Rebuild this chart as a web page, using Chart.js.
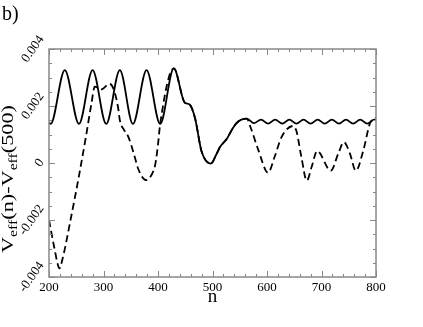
<!DOCTYPE html>
<html>
<head>
<meta charset="utf-8">
<script src="https://cdn.jsdelivr.net/npm/chart.js@4.4.0/dist/chart.umd.min.js"></script>
<style>
  html, body { margin: 0; padding: 0; background: #fff; }
  #wrap { width: 423px; height: 327px; }
</style>
</head>
<body>
<div id="wrap"><canvas id="chart" width="423" height="327"></canvas></div>
<script>
// V_eff(n) - V_eff(500) (extrema mostly)
var nSolid = [200, 203, 229, 255, 280, 305, 330, 354, 379, 404, 429, 449, 458, 468, 480, 497, 507, 514,
              526, 536, 544, 553, 563, 576, 589, 602, 615, 628, 641, 654, 667, 680, 693, 706, 719, 732,
              745, 758, 771, 784, 797, 800];
var vSolid = [0.00142, 0.00137, 0.00326, 0.00137, 0.00326, 0.00137, 0.00326, 0.00137, 0.00326, 0.00137,
              0.00332, 0.00212, 0.00205, 0.00157, 0.00040, -0.00002, 0.00030, 0.00057, 0.00084, 0.00118,
              0.00140, 0.00152, 0.00156, 0.00140, 0.00152, 0.00138, 0.00152, 0.00138, 0.00152, 0.00138,
              0.00152, 0.00138, 0.00152, 0.00138, 0.00152, 0.00138, 0.00152, 0.00138, 0.00152, 0.00138,
              0.00152, 0.00151];

var nDashed = [200, 210, 216, 219, 225, 240, 255, 268, 278, 284, 296, 311, 318, 327, 330, 338, 346, 356,
               364, 378, 388, 395, 400, 404, 429, 449, 458, 468, 480, 497, 507, 514, 526, 536, 544, 553,
               563, 569, 584, 602, 614, 627, 648, 654, 663, 673, 682, 692, 717, 731, 741, 752, 763, 777,
               789, 795, 800];
var vDashed = [-0.00200, -0.00300, -0.00355, -0.00370, -0.00335, -0.00195, -0.00045, 0.00095, 0.00210,
               0.00268, 0.00258, 0.00278, 0.00262, 0.00192, 0.00150, 0.00115, 0.00090, 0.00030, -0.00022,
               -0.00060, -0.00042, -0.00005, 0.00065, 0.00137, 0.00332, 0.00212, 0.00205, 0.00157, 0.00040,
               -0.00002, 0.00030, 0.00057, 0.00084, 0.00118, 0.00140, 0.00152, 0.00156, 0.00130, 0.00046,
               -0.00034, 0.00022, 0.00092, 0.00130, 0.00112, 0.00022, -0.00062, -0.00013, 0.00042, -0.00027,
               0.00034, 0.00073, 0.00034, -0.00027, 0.00046, 0.00140, 0.00153, 0.00160];

var xRange = [200, 800];
var yRange = [-0.004, 0.004];

function toPoints(xs, ys) {
  return xs.map(function(x, i) { return {x: x, y: ys[i]}; });
}

var serif = '"Liberation Serif", "Times New Roman", serif';

// frame, inward ticks on all sides, rotated y labels and the texts
var decorations = {
  id: 'decorations',
  afterDatasetsDraw: function(chart) {
    var ctx = chart.ctx, a = chart.chartArea;
    var xs = chart.scales.x, ys = chart.scales.y;
    ctx.save();
    ctx.strokeStyle = '#888';
    ctx.lineWidth = 1.5;
    ctx.strokeRect(a.left, a.top, a.right - a.left, a.bottom - a.top);

    ctx.lineWidth = 1;
    ctx.beginPath();
    for (var n = xRange[0]; n <= xRange[1]; n += 20) {
      var px = Math.round(xs.getPixelForValue(n)) + 0.5;
      var len = (n % 100 === 0) ? 6 : 3;
      ctx.moveTo(px, a.bottom); ctx.lineTo(px, a.bottom - len);
      ctx.moveTo(px, a.top); ctx.lineTo(px, a.top + len);
    }
    for (var k = -8; k <= 8; k++) {
      var py = Math.round(ys.getPixelForValue(k * 0.0005)) + 0.5;
      var l = (k % 4 === 0) ? 6 : 3;
      ctx.moveTo(a.left, py); ctx.lineTo(a.left + l, py);
      ctx.moveTo(a.right, py); ctx.lineTo(a.right - l, py);
    }
    ctx.stroke();

    // y tick labels, rotated, right edge of the box at a fixed x
    var ang = 55 * Math.PI / 180;
    ctx.fillStyle = '#000';
    ctx.font = '13px ' + serif;
    ctx.textAlign = 'center';
    ctx.textBaseline = 'middle';
    ys.ticks.forEach(function(t) {
      var txt = Math.abs(t.value) < 1e-12 ? '0' : t.value.toFixed(3);
      var w = ctx.measureText(txt).width;
      var bw = w * Math.cos(ang) + 9 * Math.sin(ang);
      var cx = a.left - 4 - bw / 2;
      var cy = ys.getPixelForValue(t.value);
      ctx.save();
      ctx.translate(cx, cy);
      ctx.rotate(-ang);
      ctx.fillText(txt, 0, 0);
      ctx.restore();
    });

    // axis titles
    ctx.textBaseline = 'alphabetic';
    ctx.font = '19px ' + serif;
    ctx.fillText('n', (a.left + a.right) / 2, 302);
    ctx.textAlign = 'left';
    ctx.font = '20px ' + serif;
    ctx.fillText('b)', 2, 20);

    var parts = [['V', 0], ['eff', 1], ['(n)-V', 0], ['eff', 1], ['(500)', 0]];
    var mainFont = '17px ' + serif, subFont = '12px ' + serif;
    var total = 0;
    parts.forEach(function(p) {
      ctx.font = p[1] ? subFont : mainFont;
      p.push(ctx.measureText(p[0]).width);
      total += p[2];
    });
    var stretch = 148 / total;
    ctx.save();
    ctx.translate(13, 179);
    ctx.rotate(-Math.PI / 2);
    ctx.scale(stretch, 1);
    var pos = -total / 2;
    parts.forEach(function(p) {
      ctx.font = p[1] ? subFont : mainFont;
      ctx.fillText(p[0], pos, p[1] ? 4 : 0);
      pos += p[2];
    });
    ctx.restore();
    ctx.restore();
  }
};

new Chart(document.getElementById('chart'), {
  type: 'line',
  data: {
    datasets: [{
      data: toPoints(nSolid, vSolid),
      borderColor: '#000',
      borderWidth: 1.8,
      pointRadius: 0,
      fill: false,
      cubicInterpolationMode: 'monotone'
    }, {
      data: toPoints(nDashed, vDashed),
      borderColor: '#000',
      borderWidth: 1.8,
      borderDash: [7, 4],
      pointRadius: 0,
      fill: false,
      cubicInterpolationMode: 'monotone'
    }]
  },
  options: {
    responsive: false,
    devicePixelRatio: 1,
    animation: false,
    layout: { padding: { top: 49, right: 47, left: 0, bottom: 0 } },
    plugins: { legend: { display: false }, tooltip: { enabled: false } },
    scales: {
      x: {
        type: 'linear',
        min: xRange[0],
        max: xRange[1],
        grid: { display: false, drawTicks: false },
        border: { display: false },
        ticks: {
          stepSize: 100,
          maxRotation: 0,
          padding: 3,
          color: '#000',
          font: { family: serif, size: 13 }
        },
        afterFit: function(s) { s.height = 50; }
      },
      y: {
        type: 'linear',
        min: yRange[0],
        max: yRange[1],
        grid: { display: false, drawTicks: false },
        border: { display: false },
        ticks: { stepSize: 0.002, display: false },
        afterFit: function(s) { s.width = 49; }
      }
    }
  },
  plugins: [decorations]
});
</script>
</body>
</html>
